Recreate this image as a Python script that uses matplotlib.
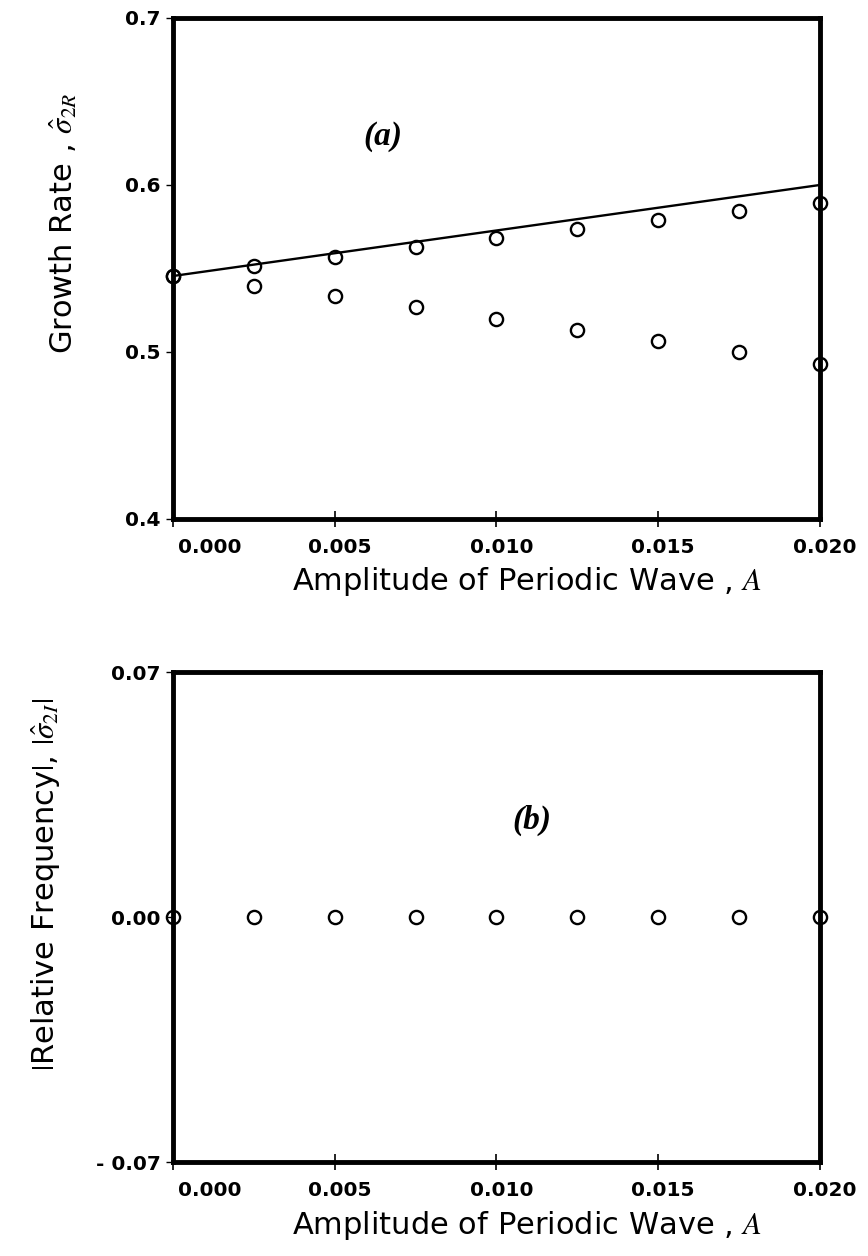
import numpy as np
import matplotlib
matplotlib.use('Agg')
import matplotlib.pyplot as plt
import matplotlib.transforms as mtransforms

# data
amp = [0.0, 0.0025, 0.005, 0.0075, 0.010, 0.0125, 0.015, 0.0175, 0.020]
growth_upper = [0.5455, 0.5515, 0.557, 0.5627, 0.568, 0.5735, 0.579, 0.5844, 0.5894]
growth_lower = [0.5455, 0.5397, 0.5335, 0.5271, 0.520, 0.5132, 0.5068, 0.4998, 0.4926]
line_amp = [0.0, 0.020]
line_growth = [0.5455, 0.600]
freq = [0.0, 0.0, 0.0, 0.0, 0.0, 0.0, 0.0, 0.0, 0.0]

xticks = [0.0, 0.005, 0.010, 0.015, 0.020]
xticklabels = ['0.000', '0.005', '0.010', '0.015', '0.020']
yticks_a = [0.4, 0.5, 0.6, 0.7]
yticklabels_a = ['0.4', '0.5', '0.6', '0.7']
yticks_b = [-0.07, 0.0, 0.07]
yticklabels_b = ['- 0.07', '0.00', '0.07']

plt.rcParams['font.family'] = ['DejaVu Sans']
plt.rcParams['mathtext.fontset'] = 'stix'

fig = plt.figure(figsize=(8.68, 12.56), dpi=100)
ax1 = fig.add_axes([0.1993, 0.5868, 0.7454, 0.3989])
ax2 = fig.add_axes([0.1993, 0.0748, 0.7454, 0.3901])

mk = dict(marker='o', ms=9.5, mfc='none', mec='black', mew=1.7, ls='none', clip_on=False)
lab_font = 22
# tick labels sit a little right of their ticks in the original
shift = mtransforms.ScaledTranslation(5 / 100, 0, fig.dpi_scale_trans)


def style(ax, yt, ytl, xlab_y):
    for s in ax.spines.values():
        s.set_linewidth(3.5)
    ax.set_xlim(0, 0.02)
    ax.set_xticks(xticks)
    ax.set_xticklabels(xticklabels, fontsize=14.5, fontweight='bold')
    ax.set_yticks(yt)
    ax.set_yticklabels(ytl, fontsize=14.5, fontweight='bold')
    ax.tick_params(axis='y', direction='out', length=5, width=1, pad=4)
    ax.tick_params(axis='x', direction='inout', length=12, width=1.2, pad=8)
    lab = ax.get_xticklabels()
    for t in lab:
        t.set_transform(t.get_transform() + shift)
    lab[0].set_horizontalalignment('left')
    ax.set_xlabel('Amplitude of Periodic Wave , $A$', fontsize=lab_font)
    ax.xaxis.set_label_coords(0.548, xlab_y)


ax1.plot(line_amp, line_growth, color='black', lw=1.7, clip_on=False)
ax1.plot(amp, growth_upper, **mk)
ax1.plot(amp, growth_lower, **mk)
ax1.set_ylim(0.4, 0.7)
style(ax1, yticks_a, yticklabels_a, -0.092)
ax1.set_ylabel(r'Growth Rate , $\hat{\sigma}_{2R}$', fontsize=lab_font)
ax1.yaxis.label.set_horizontalalignment('right')
ax1.yaxis.set_label_coords(-0.145, 0.85)
ax1.text(0.0065, 0.629, '(a)', fontsize=24, ha='center', va='center',
         family='Liberation Serif', style='italic', weight='bold')

ax2.plot(amp, freq, **mk)
ax2.set_ylim(-0.07, 0.07)
style(ax2, yticks_b, yticklabels_b, -0.096)
ax2.set_ylabel(r'$|$Relative Frequency$|$, $|\hat{\sigma}_{2I}|$', fontsize=lab_font)
ax2.yaxis.label.set_horizontalalignment('right')
ax2.yaxis.set_label_coords(-0.172, 0.947)
ax2.text(0.0111, 0.0277, '(b)', fontsize=24, ha='center', va='center',
         family='Liberation Serif', style='italic', weight='bold')

fig.savefig('out.png', dpi=100)
